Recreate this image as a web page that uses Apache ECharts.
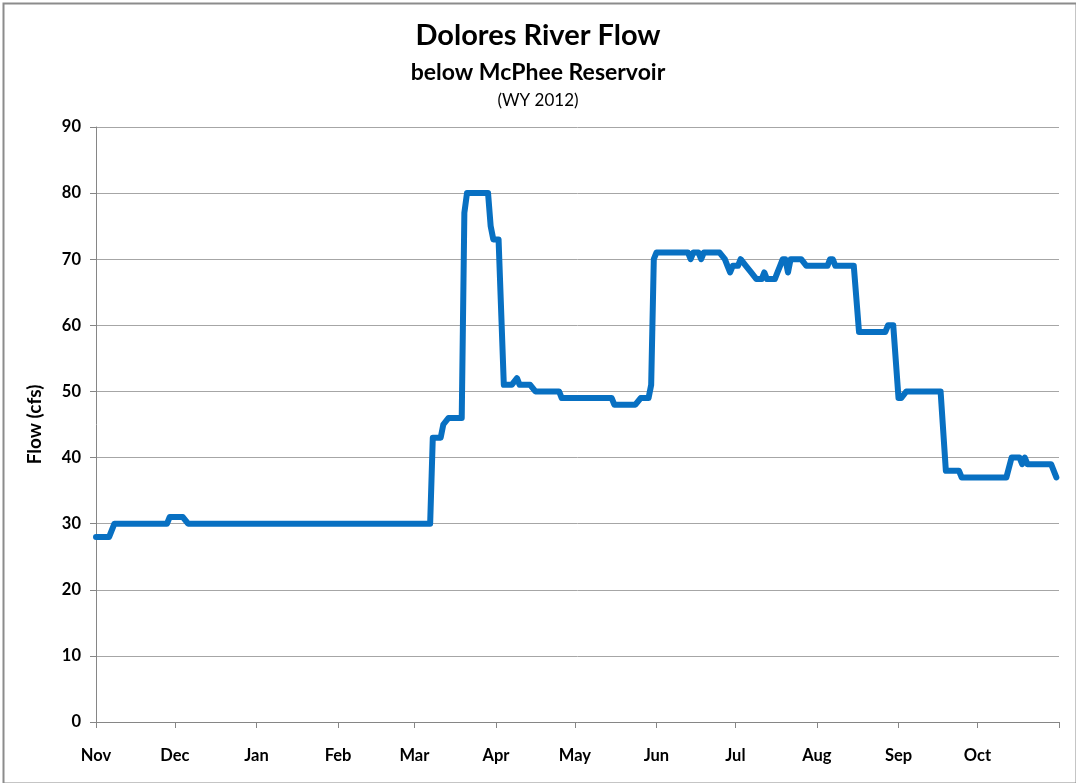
<!DOCTYPE html>
<html>
<head>
<meta charset="utf-8">
<title>Dolores River Flow</title>
<script src="https://cdn.jsdelivr.net/npm/echarts@6/dist/echarts.min.js"></script>
<style>
  html, body { margin: 0; padding: 0; background: #fff; }
  #chart { width: 1076px; height: 783px; }
</style>
</head>
<body>
<div id="chart"></div>
<script>
// Daily flow at change points, day 0 = 1 Nov 2011 (water year 2012)
const flowDays = [
  0, 5, 7, 27, 28, 33, 35, 127, 128, 131, 132, 134, 139, 140, 141, 149, 150, 151, 153, 155,
  158, 160, 161, 165, 167, 176, 177, 196, 197, 205, 207, 210, 211, 212, 213, 225, 226, 227,
  229, 230, 231, 237, 239, 240, 241, 242, 244, 245, 247, 249, 251, 253, 254, 255, 258,
  259, 260, 261, 262, 263, 264, 268, 270, 278, 279, 280, 281, 288, 290, 300, 301, 303, 305,
  306, 308, 321, 323, 328, 329, 346, 348, 351, 352, 353, 354, 363, 365
];
const flowCfs = [
  28, 28, 30, 30, 31, 31, 30, 30, 43, 43, 45, 46, 46, 77, 80, 80, 75, 73, 73, 51,
  51, 52, 51, 51, 50, 50, 49, 49, 48, 48, 49, 49, 51, 70, 71, 71, 70, 71,
  71, 70, 71, 71, 70, 69, 68, 69, 69, 70, 69, 68, 67, 67, 68, 67, 67,
  68, 69, 70, 70, 68, 70, 70, 69, 69, 70, 70, 69, 69, 59, 59, 60, 60, 49,
  49, 50, 50, 38, 38, 37, 37, 40, 40, 39, 40, 39, 39, 37
];

// First day of each month along the water year, plus the closing boundary
const monthStartDays = [0, 30, 61, 92, 121, 152, 182, 213, 243, 274, 305, 335, 366];
const monthLabels = ['Nov', 'Dec', 'Jan', 'Feb', 'Mar', 'Apr', 'May', 'Jun', 'Jul', 'Aug', 'Sep', 'Oct', ''];

const flowTicks = [0, 10, 20, 30, 40, 50, 60, 70, 80, 90];

const titleText = 'Dolores River Flow';
const subtitleText = 'below McPhee Reservoir';
const periodText = '(WY 2012)';
const yAxisTitle = 'Flow (cfs)';

const FONT = 'Lato, "Open Sans", "Liberation Sans", sans-serif';

const chart = echarts.init(document.getElementById('chart'), null, { renderer: 'canvas' });

const seriesData = flowDays.map((d, i) => [d, flowCfs[i]]);

chart.setOption({
  backgroundColor: '#ffffff',
  animation: false,
  title: [
    {
      text: titleText, left: 'center', top: 16,
      textStyle: { fontFamily: FONT, fontSize: 29, fontWeight: 'bold', color: '#000' }
    },
    {
      text: subtitleText, left: 'center', top: 56,
      textStyle: { fontFamily: FONT, fontSize: 23, fontWeight: 'bold', color: '#000' }
    },
    {
      text: periodText, left: 'center', top: 87,
      textStyle: { fontFamily: FONT, fontSize: 17, fontWeight: 'normal', color: '#000' }
    }
  ],
  grid: { left: 96, right: 17, top: 127, bottom: 61, containLabel: false },
  xAxis: {
    type: 'value',
    min: 0,
    max: 366,
    axisLine: { show: true, lineStyle: { color: '#868686', width: 1 } },
    axisTick: {
      show: true, inside: false, length: 6,
      customValues: monthStartDays,
      lineStyle: { color: '#868686' }
    },
    axisLabel: {
      customValues: monthStartDays,
      margin: 25,
      fontFamily: FONT, fontSize: 16.5, fontWeight: 'bold', color: '#000',
      formatter: function (v) {
        const idx = monthStartDays.indexOf(v);
        return idx >= 0 ? monthLabels[idx] : '';
      }
    },
    splitLine: { show: false }
  },
  yAxis: {
    type: 'value',
    min: flowTicks[0],
    max: flowTicks[flowTicks.length - 1],
    interval: 10,
    name: yAxisTitle,
    nameLocation: 'middle',
    nameGap: 52,
    nameRotate: 90,
    nameTextStyle: { fontFamily: FONT, fontSize: 19, fontWeight: 'bold', color: '#000' },
    axisLine: { show: true, lineStyle: { color: '#868686', width: 1 } },
    axisTick: { show: true, inside: false, length: 6, lineStyle: { color: '#868686' } },
    axisLabel: {
      margin: 15,
      fontFamily: FONT, fontSize: 16.5, fontWeight: 'bold', color: '#000'
    },
    splitLine: { show: true, lineStyle: { color: '#a6a6a6', width: 1 } }
  },
  series: [
    {
      type: 'line',
      data: seriesData,
      showSymbol: false,
      symbol: 'none',
      smooth: false,
      lineStyle: { color: '#0870c2', width: 6, join: 'round', cap: 'round' },
      z: 3
    }
  ],
  graphic: [
    {
      type: 'rect',
      left: 1, top: 1,
      shape: { width: 1073, height: 780 },
      style: { fill: 'none', stroke: '#8c8c8c', lineWidth: 2 },
      silent: true
    }
  ]
});
</script>
</body>
</html>
